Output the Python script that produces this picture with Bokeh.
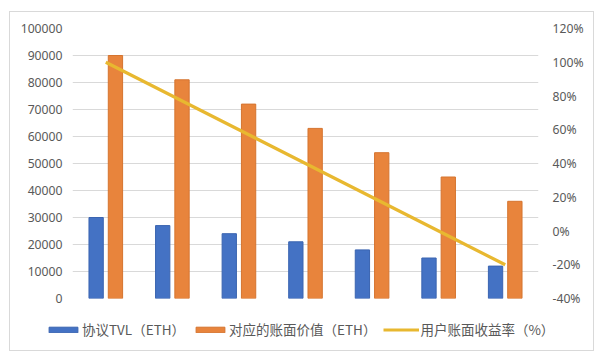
from bokeh.plotting import figure
from bokeh.layouts import column
from bokeh.models import (Range1d, LinearAxis, FixedTicker, Legend, LegendItem,
                          ColumnDataSource, PrintfTickFormatter)
from bokeh.transform import dodge
from bokeh.embed import file_html
from bokeh.resources import INLINE

# ---- data ----
categories = ["1", "2", "3", "4", "5", "6", "7"]
tvl_eth = [30000, 27000, 24000, 21000, 18000, 15000, 12000]
book_value_eth = [90000, 81000, 72000, 63000, 54000, 45000, 36000]
yield_pct = [100, 80, 60, 40, 20, 0, -20]
left_ticks = [0, 10000, 20000, 30000, 40000, 50000, 60000, 70000, 80000, 90000, 100000]
right_ticks = [-40, -20, 0, 20, 40, 60, 80, 100, 120]
series_names = ["协议TVL（ETH）", "对应的账面价值（ETH）", "用户账面收益率（%）"]

src = ColumnDataSource(dict(cat=categories, tvl=tvl_eth, book=book_value_eth, yld=yield_pct))

BLUE = "#4472C4"
BLUE_EDGE = "#3A64B0"
ORANGE = "#E8843C"
ORANGE_EDGE = "#D5742F"
GOLD = "#E8B830"
TXT = "#595959"
GRID = "#D9D9D9"

p = figure(x_range=categories, y_range=Range1d(0, 100000),
           width=583, height=298, output_backend="svg", toolbar_location=None,
           min_border_left=62, min_border_right=55, min_border_top=16, min_border_bottom=12)
p.outline_line_color = None
p.background_fill_color = "white"
p.border_fill_color = "white"

p.extra_y_ranges = {"pct": Range1d(-40, 120)}

bar_specs = [
    dict(x=dodge("cat", -0.145, range=p.x_range), top="tvl", width=0.215,
         fill_color=BLUE, line_color=BLUE_EDGE, line_width=1),
    dict(x=dodge("cat", 0.145, range=p.x_range), top="book", width=0.215,
         fill_color=ORANGE, line_color=ORANGE_EDGE, line_width=1),
]
line_spec = dict(x="cat", y="yld", line_color=GOLD, line_width=3.2)

b1 = p.vbar(source=src, **bar_specs[0])
b2 = p.vbar(source=src, **bar_specs[1])
l1 = p.line(source=src, y_range_name="pct", **line_spec)

# x axis hidden
p.xaxis.visible = False
p.xgrid.grid_line_color = None

# left axis
p.yaxis.ticker = FixedTicker(ticks=left_ticks)
p.yaxis.formatter = PrintfTickFormatter(format="%d")
p.yaxis.axis_line_color = None
p.yaxis.major_tick_line_color = None
p.yaxis.minor_tick_line_color = None
p.yaxis.major_tick_out = 0
p.yaxis.major_tick_in = 0
p.yaxis.major_label_standoff = 10
p.yaxis.major_label_text_font = "Noto Sans"
p.yaxis.major_label_text_font_size = "12.2px"
p.yaxis.major_label_text_color = TXT
p.ygrid.ticker = FixedTicker(ticks=left_ticks)
p.ygrid.grid_line_color = GRID
p.ygrid.grid_line_width = 1

# right axis
ra = LinearAxis(y_range_name="pct", ticker=FixedTicker(ticks=right_ticks),
                formatter=PrintfTickFormatter(format="%d%%"))
ra.axis_line_color = None
ra.major_tick_line_color = None
ra.minor_tick_line_color = None
ra.major_tick_out = 0
ra.major_tick_in = 0
ra.major_label_standoff = 14
ra.major_label_text_font = "Noto Sans"
ra.major_label_text_font_size = "12.2px"
ra.major_label_text_color = TXT
p.add_layout(ra, "right")

# ---- legend strip (separate figure below the chart) ----
lg = figure(width=583, height=40, output_backend="svg", toolbar_location=None,
            x_range=categories, y_range=Range1d(0, 1),
            x_axis_location=None, y_axis_location=None,
            min_border_left=0, min_border_right=0, min_border_top=0, min_border_bottom=0)
try:
    lg.frame_align = False
except Exception:
    pass
lg.grid.visible = False
lg.outline_line_color = None
lg.background_fill_color = "white"
lg.border_fill_color = "white"

# hidden renderers that only lend their styles to the legend swatches
d1 = lg.vbar(source=src, visible=False, **bar_specs[0])
d2 = lg.vbar(source=src, visible=False, **bar_specs[1])
d3 = lg.line(source=src, visible=False, **line_spec)

legend = Legend(items=[LegendItem(label=series_names[0], renderers=[d1]),
                       LegendItem(label=series_names[1], renderers=[d2]),
                       LegendItem(label=series_names[2], renderers=[d3])],
                orientation="horizontal", location=(35, 11))
legend.border_line_color = None
legend.background_fill_alpha = 0
legend.inactive_fill_alpha = 0
legend.label_text_font = "Noto Sans CJK SC"
legend.label_text_font_size = "13.5px"
legend.label_text_color = TXT
legend.glyph_width = 36
legend.glyph_height = 7
legend.label_standoff = 1
legend.spacing = 7
legend.margin = 0
legend.padding = 5
legend.label_height = 20
lg.add_layout(legend, "center")

layout = column(p, lg, spacing=0)
layout.styles = {"border": "1px solid #D9D9D9", "margin-left": "9px", "margin-top": "11px"}

open("out.html", "w").write(file_html(layout, INLINE))
